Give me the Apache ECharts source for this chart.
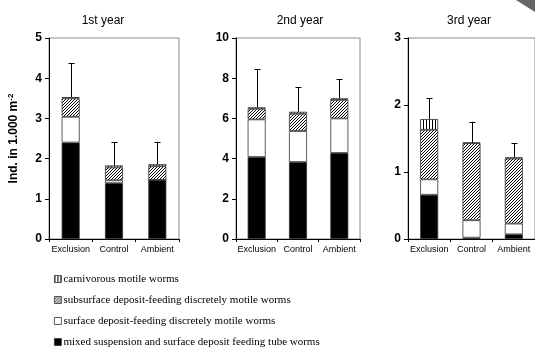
<!DOCTYPE html>
<html><head><meta charset="utf-8">
<script src="https://cdn.jsdelivr.net/npm/echarts@6/dist/echarts.min.js"></script>
<style>html,body{margin:0;padding:0;background:#fff}#c{width:535px;height:347px}</style>
</head><body><div id="c"></div>
<script>
// ---- data ----
const categories = ['Exclusion', 'Control', 'Ambient'];
const panelTitles = ['1st year', '2nd year', '3rd year'];
const seriesNames = ['mixed suspension and surface deposit feeding tube worms',
  'surface deposit-feeding discretely motile worms',
  'subsurface deposit-feeding discretely motile worms',
  'carnivorous motile worms'];
// year 1
const y1Tube = [2.40, 1.39, 1.47];
const y1Surface = [0.64, 0.07, 0.00];
const y1Subsurface = [0.46, 0.32, 0.34];
const y1Carnivore = [0.03, 0.05, 0.05];
const y1Err = [0.84, 0.58, 0.56];
// year 2
const y2Tube = [4.08, 3.83, 4.28];
const y2Surface = [1.87, 1.54, 1.72];
const y2Subsurface = [0.53, 0.86, 0.92];
const y2Carnivore = [0.07, 0.10, 0.08];
const y2Err = [1.90, 1.22, 0.95];
// year 3
const y3Tube = [0.66, 0.02, 0.07];
const y3Surface = [0.23, 0.26, 0.16];
const y3Subsurface = [0.74, 1.15, 0.97];
const y3Carnivore = [0.16, 0.01, 0.02];
const y3Err = [0.31, 0.31, 0.21];
const yMax = [5, 10, 3];
const yInterval = [1, 2, 1];

// ---- patterns ----
function hatchPattern() {
  const c = document.createElement('canvas'); c.width = 3; c.height = 3;
  const g = c.getContext('2d'); g.fillStyle = '#fff'; g.fillRect(0, 0, 3, 3);
  g.fillStyle = '#000'; for (let i = 0; i < 3; i++) g.fillRect(i, 2 - i, 1, 1);
  return c;
}
function stripePattern() {
  const c = document.createElement('canvas'); c.width = 3; c.height = 2;
  const g = c.getContext('2d'); g.fillStyle = '#fff'; g.fillRect(0, 0, 3, 2);
  g.fillStyle = '#000'; g.fillRect(0, 0, 1, 2);
  return c;
}
const colors = ['#000000', '#ffffff', {image: hatchPattern(), repeat: 'repeat'}, {image: stripePattern(), repeat: 'repeat'}];

const panels = [
  [y1Tube, y1Surface, y1Subsurface, y1Carnivore, y1Err],
  [y2Tube, y2Surface, y2Subsurface, y2Carnivore, y2Err],
  [y3Tube, y3Surface, y3Subsurface, y3Carnivore, y3Err]
];
const gridPos = [{left: 49, width: 130}, {left: 236, width: 124}, {left: 408, width: 130}];
const titleX = [98, 295, 464];

const grid = [], xAxis = [], yAxis = [], series = [], title = [];
panels.forEach((p, i) => {
  grid.push({left: gridPos[i].left, width: gridPos[i].width, top: 38, bottom: 108,
    show: true, borderColor: '#8c8c8c', borderWidth: 1, containLabel: false});
  title.push({text: panelTitles[i], left: titleX[i], top: 10, textAlign: 'center',
    textStyle: {fontFamily: 'Liberation Sans, Arial', fontSize: 12, fontWeight: 'normal', color: '#000'}});
  xAxis.push({type: 'category', gridIndex: i, data: categories,
    axisLine: {lineStyle: {color: '#000', width: 1}},
    axisTick: {show: true, length: 3, lineStyle: {color: '#000'}},
    axisLabel: {fontFamily: 'Liberation Sans, Arial', fontSize: 9, color: '#000', margin: 6, interval: 0}});
  const ya = {type: 'value', gridIndex: i, min: 0, max: yMax[i], interval: yInterval[i],
    splitLine: {show: false},
    axisLine: {show: true, lineStyle: {color: '#000', width: 1}},
    axisTick: {show: true, length: 4, lineStyle: {color: '#000'}},
    axisLabel: {fontFamily: 'Liberation Sans, Arial', fontSize: 12, fontWeight: 'bold', color: '#000', margin: 7}};
  if (i === 0) {
    Object.assign(ya, {name: 'Ind. in 1.000 m{sup|-2}', nameLocation: 'middle', nameRotate: 90, nameGap: 28,
      nameTextStyle: {fontFamily: 'Liberation Sans, Arial', fontSize: 12, fontWeight: 'bold', color: '#000',
        rich: {sup: {fontSize: 8, fontWeight: 'bold', fontFamily: 'Liberation Sans, Arial', verticalAlign: 'top', padding: [0, 0, 6, 0]}}}});
  }
  yAxis.push(ya);
  for (let s = 0; s < 4; s++) {
    series.push({type: 'bar', name: seriesNames[s], xAxisIndex: i, yAxisIndex: i, stack: 'p' + i,
      data: p[s], barWidth: 18,
      itemStyle: {color: colors[s], borderColor: '#333', borderWidth: 0.8},
      emphasis: {disabled: true}, animation: false});
  }
  const errData = categories.map((c, k) => {
    const total = p[0][k] + p[1][k] + p[2][k] + p[3][k];
    return [k, total, total + p[4][k]];
  });
  series.push({type: 'custom', xAxisIndex: i, yAxisIndex: i, data: errData, z: 5, animation: false,
    renderItem: (params, api) => {
      const a = api.coord([api.value(0), api.value(1)]);
      const b = api.coord([api.value(0), api.value(2)]);
      const x = Math.round(a[0]) + 0.5;
      return {type: 'group', children: [
        {type: 'line', shape: {x1: x, y1: a[1], x2: x, y2: b[1]}, style: {stroke: '#000', lineWidth: 1}},
        {type: 'line', shape: {x1: x - 3, y1: Math.round(b[1]) + 0.5, x2: x + 3, y2: Math.round(b[1]) + 0.5}, style: {stroke: '#000', lineWidth: 1}}
      ]};
    }});
});

const chart = echarts.init(document.getElementById('c'), null, {renderer: 'canvas'});
chart.setOption({
  animation: false,
  title, grid, xAxis, yAxis, series,
  legend: {orient: 'vertical', left: 49, top: 268, height: 120, itemWidth: 7, itemHeight: 7, itemGap: 9,
    icon: 'rect', selectedMode: false,
    data: [seriesNames[3], seriesNames[2], seriesNames[1], seriesNames[0]],
    textStyle: {fontFamily: 'Liberation Serif, Times New Roman', fontSize: 11, lineHeight: 12, color: '#000', padding: [0, 0, 0, -3]},
    itemStyle: {borderColor: '#333', borderWidth: 0.8}},
  graphic: [{type: 'polygon', shape: {points: [[516, 0], [535, 0], [535, 12]]}, style: {fill: '#666'}}]
});
</script></body></html>
